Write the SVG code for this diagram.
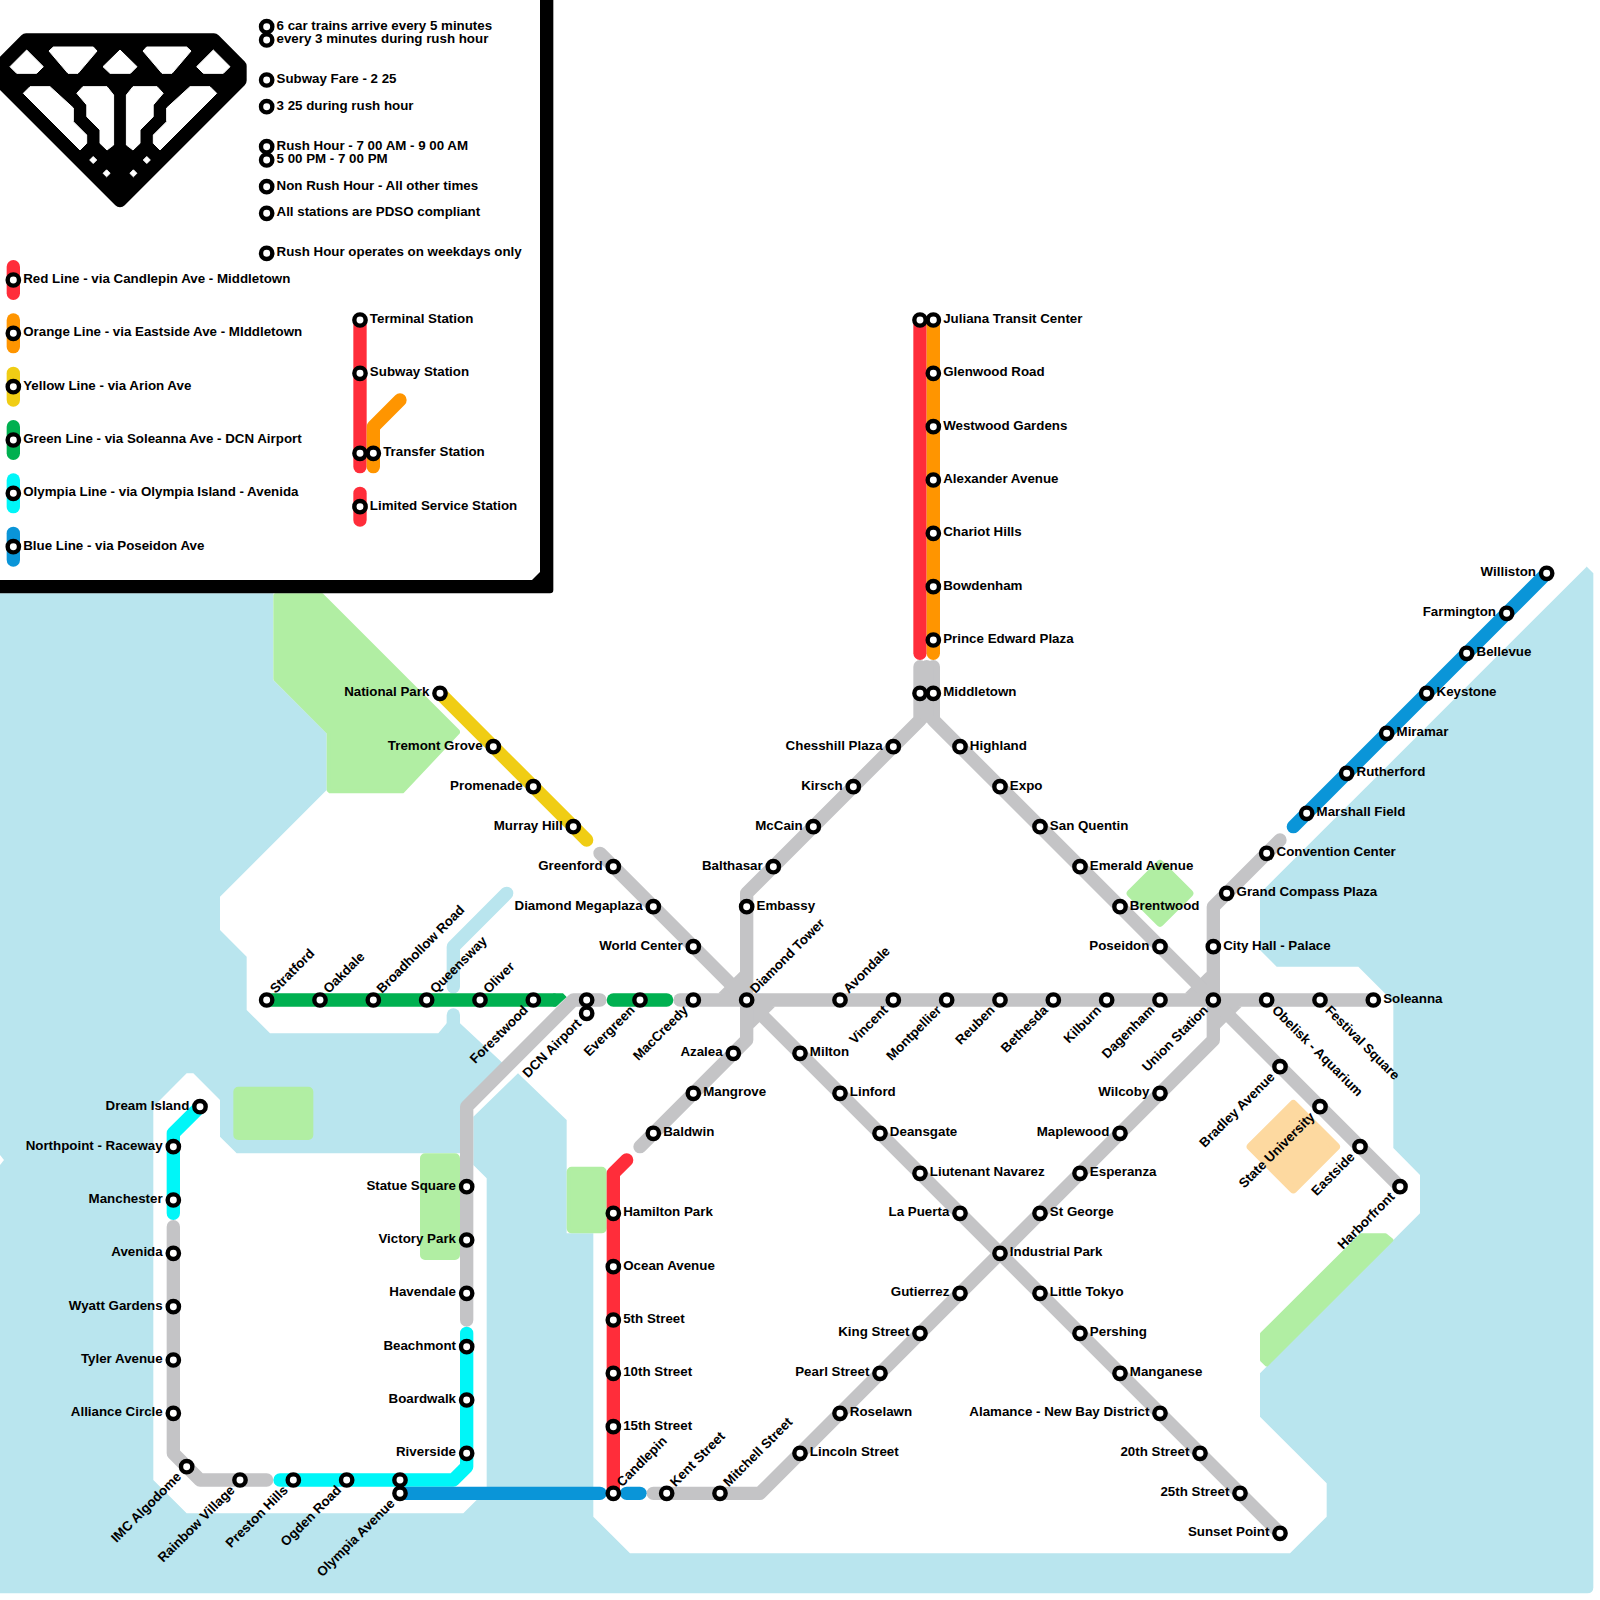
<svg xmlns="http://www.w3.org/2000/svg" width="1600" height="1600" viewBox="0 0 1600 1600">
<style>
text{font-family:"Liberation Sans",Arial,sans-serif;font-weight:700;font-size:13.33px;fill:#000}
text:not([transform]){transform:translate(0,-.4px)}
text:not(.e):not([transform]){transform:translate(-.8px,-.4px)}
.e{text-anchor:end}
.s{fill:#fff;stroke:#000;stroke-width:4.4}
.l{fill:none;stroke-width:13.33;stroke-linecap:round;stroke-linejoin:round}
.gr{stroke:#c4c4c6}.r{stroke:#ff2d3a}.o{stroke:#ff9500}.y{stroke:#f0cd14}.g{stroke:#00b050}.c{stroke:#00f6f8}.b{stroke:#0a95d8}
.park{fill:#b1eea3;stroke:#b1eea3;stroke-width:4;stroke-linejoin:round}
.hole{fill:#fff;stroke:#fff;stroke-width:1;stroke-linejoin:round}
</style>
<rect width="1600" height="1600" fill="#fff"/>
<path id="water" d="M0 560H1580L1593.33 573.33V1587.33Q1593.33 1593.33 1587.33 1593.33H0Z" fill="#b9e5ee"/>
<path id="land" fill="#fff" d="M0 0H1586.67V566.67L1260 893.33V950L1276.67 966.67H1358.33L1393.33 1001.67V1148L1420 1175V1213.33L1260 1373.33V1416.67L1326.67 1483.33V1516.67L1290 1553.33H630L593.33 1516.67V1233.33H566.67V1120L518 1073.33L473.33 1116.67V1165L486.67 1178.33V1490L463.33 1513.33H186.67L153.33 1480V1106.67L186.67 1073.33H193.33L220 1100V1136.67L236.67 1153.33H466.67V1106.67L506.67 1066.67L460 1023.33H446.67L438.33 1033.33H270L246.67 1010V956.67L220 930V896.67L326.67 790V733.33L273.33 680V593.33H0Z"/>
<polygon fill="#fff" points="0,1155 4,1160 0,1165"/>
<g id="parks">
<polygon class="park" points="275.33,595.33 322,595.33 458,731.5 458,732.5 402.5,791.33 330,791.33 328.67,790 328.67,732.5 275.33,679"/>
<rect class="park" x="235.33" y="1088.67" width="76" height="49.33" rx="3"/>
<rect class="park" x="422" y="1155.33" width="36" height="102.67" rx="3"/>
<rect class="park" x="568.67" y="1168.67" width="36" height="62.67" rx="3"/>
<polygon class="park" style="stroke-width:8" points="1160,864 1189.33,893.33 1160,922.67 1130.67,893.33"/>
<polygon class="park" points="1262,1334 1361,1235.33 1385.5,1235.33 1391.33,1240 1266.67,1364.5 1262,1360"/>
<polygon fill="#fdd9a0" stroke="#fdd9a0" stroke-width="8" stroke-linejoin="round" points="1293.33,1104 1336,1146.67 1293.33,1189.33 1250.67,1146.67"/>
</g>
<g id="river" class="l" style="stroke:#b9e5ee">
<polyline points="506.67,893.33 453.33,946.67 453.33,986.67"/>
<polyline points="453.33,1015 453.33,1032"/>
</g>
<g id="connectors">
<g fill="#c4c4c6">
<polygon points="740,971.67 718.33,993.33 746.67,1000"/>
<polygon points="775,1006.67 753.33,1028.33 746.67,1000"/>
<polygon points="1206.67,971.67 1185,993.33 1213.33,1000"/>
<polygon points="1241.67,1006.67 1220,1028.33 1213.33,1000"/>
</g>
<polyline class="l gr" points="600,853.33 1280,1533.33"/>
<polyline class="l gr" points="920,666.67 920,720 746.67,893.33 746.67,1040 640,1146.67"/>
<polyline class="l gr" points="933.33,666.67 933.33,720 1400,1186.67"/>
<polyline class="l gr" points="926.67,666.67 926.67,716"/>
<polyline class="l gr" points="680,1000 1373.33,1000"/>
<polyline class="l gr" points="1280,840 1213.33,906.67 1213.33,1040 760,1493.33 653.33,1493.33"/>
<polyline class="l gr" points="466.67,1320 466.67,1106.67 573.33,1000 600,1000"/>
<polyline class="l gr" points="173.33,1226.67 173.33,1453.33 200,1480 266.67,1480"/>
<polyline class="l r" points="920,320 920,653.33"/>
<polyline class="l o" points="933.33,320 933.33,653.33"/>
<polyline class="l y" points="440,693.33 586.67,840"/>
<polyline class="l g" points="266.67,1000 553.33,1000"/>
<polygon fill="#00b050" points="553.33,993.33 563,993.33 566.67,997 556,1006.67 553.33,1006.67"/>
<polyline class="l g" points="613.33,1000 666.67,1000"/>
<polyline class="l c" points="200,1106.67 173.33,1133.33 173.33,1213.33"/>
<polyline class="l c" points="466.67,1333.33 466.67,1466.67 453.33,1480 280,1480"/>
<polyline class="l b" points="400,1493.33 600,1493.33"/>
<polyline class="l b" points="626.67,1493.33 640,1493.33"/>
<polyline class="l r" points="613.33,1493.33 613.33,1173.33 626.67,1160"/>
<polyline class="l b" points="1546.67,573.33 1293.33,826.67"/>
</g>
<g id="stations">
<g id="n-stratford"><circle class="s" cx="266.67" cy="1000" r="5.67"/><text transform="translate(266.67 1000) rotate(-45)" x="10.4" y="2">Stratford</text></g>
<g id="n-oakdale"><circle class="s" cx="320" cy="1000" r="5.67"/><text transform="translate(320 1000) rotate(-45)" x="10.4" y="2">Oakdale</text></g>
<g id="n-broadhollow"><circle class="s" cx="373.33" cy="1000" r="5.67"/><text transform="translate(373.33 1000) rotate(-45)" x="10.4" y="2">Broadhollow Road</text></g>
<g id="n-queensway"><circle class="s" cx="426.67" cy="1000" r="5.67"/><text transform="translate(426.67 1000) rotate(-45)" x="10.4" y="2">Queensway</text></g>
<g id="n-oliver"><circle class="s" cx="480" cy="1000" r="5.67"/><text transform="translate(480 1000) rotate(-45)" x="10.4" y="2">Oliver</text></g>
<g id="n-forestwood"><circle class="s" cx="533.33" cy="1000" r="5.67"/><text class="e" transform="translate(533.33 1000) rotate(-45)" x="-11" y="4.5">Forestwood</text></g>
<g id="n-dcn"><circle class="s" cx="586.67" cy="1000" r="5.67"/><circle class="s" cx="586.67" cy="1013.33" r="5.67"/><text class="e" transform="translate(586.67 1013.33) rotate(-45)" x="-11" y="4.5">DCN Airport</text></g>
<g id="n-evergreen"><circle class="s" cx="640" cy="1000" r="5.67"/><text class="e" transform="translate(640 1000) rotate(-45)" x="-11" y="4.5">Evergreen</text></g>
<g id="n-maccreedy"><circle class="s" cx="693.33" cy="1000" r="5.67"/><text class="e" transform="translate(693.33 1000) rotate(-45)" x="-11" y="4.5">MacCreedy</text></g>
<g id="n-diamondtower"><circle class="s" cx="746.67" cy="1000" r="5.67"/><text transform="translate(746.67 1000) rotate(-45)" x="10.4" y="2">Diamond Tower</text></g>
<g id="n-avondale"><circle class="s" cx="840" cy="1000" r="5.67"/><text transform="translate(840 1000) rotate(-45)" x="10.4" y="2">Avondale</text></g>
<g id="n-vincent"><circle class="s" cx="893.33" cy="1000" r="5.67"/><text class="e" transform="translate(893.33 1000) rotate(-45)" x="-11" y="4.5">Vincent</text></g>
<g id="n-montpellier"><circle class="s" cx="946.67" cy="1000" r="5.67"/><text class="e" transform="translate(946.67 1000) rotate(-45)" x="-11" y="4.5">Montpellier</text></g>
<g id="n-reuben"><circle class="s" cx="1000" cy="1000" r="5.67"/><text class="e" transform="translate(1000 1000) rotate(-45)" x="-11" y="4.5">Reuben</text></g>
<g id="n-bethesda"><circle class="s" cx="1053.33" cy="1000" r="5.67"/><text class="e" transform="translate(1053.33 1000) rotate(-45)" x="-11" y="4.5">Bethesda</text></g>
<g id="n-kilburn"><circle class="s" cx="1106.67" cy="1000" r="5.67"/><text class="e" transform="translate(1106.67 1000) rotate(-45)" x="-11" y="4.5">Kilburn</text></g>
<g id="n-dagenham"><circle class="s" cx="1160" cy="1000" r="5.67"/><text class="e" transform="translate(1160 1000) rotate(-45)" x="-11" y="4.5">Dagenham</text></g>
<g id="n-union"><circle class="s" cx="1213.33" cy="1000" r="5.67"/><text class="e" transform="translate(1213.33 1000) rotate(-45)" x="-11" y="4.5">Union Station</text></g>
<g id="n-obelisk"><circle class="s" cx="1266.67" cy="1000" r="5.67"/><text transform="translate(1266.67 1000) rotate(45)" x="11" y="4.5">Obelisk - Aquarium</text></g>
<g id="n-festival"><circle class="s" cx="1320" cy="1000" r="5.67"/><text transform="translate(1320 1000) rotate(45)" x="11" y="4.5">Festival Square</text></g>
<g id="n-soleanna"><circle class="s" cx="1373.33" cy="1000" r="5.67"/><text x="1384" y="1003.33">Soleanna</text></g>
<g id="n-national"><circle class="s" cx="440" cy="693.33" r="5.67"/><text class="e" x="429.33" y="696.67">National Park</text></g>
<g id="n-tremont"><circle class="s" cx="493.33" cy="746.67" r="5.67"/><text class="e" x="482.67" y="750">Tremont Grove</text></g>
<g id="n-promenade"><circle class="s" cx="533.33" cy="786.67" r="5.67"/><text class="e" x="522.67" y="790">Promenade</text></g>
<g id="n-murray"><circle class="s" cx="573.33" cy="826.67" r="5.67"/><text class="e" x="562.67" y="830">Murray Hill</text></g>
<g id="n-greenford"><circle class="s" cx="613.33" cy="866.67" r="5.67"/><text class="e" x="602.67" y="870">Greenford</text></g>
<g id="n-megaplaza"><circle class="s" cx="653.33" cy="906.67" r="5.67"/><text class="e" x="642.67" y="910">Diamond Megaplaza</text></g>
<g id="n-world"><circle class="s" cx="693.33" cy="946.67" r="5.67"/><text class="e" x="682.67" y="950">World Center</text></g>
<g id="n-milton"><circle class="s" cx="800" cy="1053.33" r="5.67"/><text x="810.67" y="1056.67">Milton</text></g>
<g id="n-linford"><circle class="s" cx="840" cy="1093.33" r="5.67"/><text x="850.67" y="1096.67">Linford</text></g>
<g id="n-deansgate"><circle class="s" cx="880" cy="1133.33" r="5.67"/><text x="890.67" y="1136.67">Deansgate</text></g>
<g id="n-navarez"><circle class="s" cx="920" cy="1173.33" r="5.67"/><text x="930.67" y="1176.67">Liutenant Navarez</text></g>
<g id="n-lapuerta"><circle class="s" cx="960" cy="1213.33" r="5.67"/><text class="e" x="949.33" y="1216.67">La Puerta</text></g>
<g id="n-industrial"><circle class="s" cx="1000" cy="1253.33" r="5.67"/><text x="1010.67" y="1256.67">Industrial Park</text></g>
<g id="n-tokyo"><circle class="s" cx="1040" cy="1293.33" r="5.67"/><text x="1050.67" y="1296.67">Little Tokyo</text></g>
<g id="n-pershing"><circle class="s" cx="1080" cy="1333.33" r="5.67"/><text x="1090.67" y="1336.67">Pershing</text></g>
<g id="n-manganese"><circle class="s" cx="1120" cy="1373.33" r="5.67"/><text x="1130.67" y="1376.67">Manganese</text></g>
<g id="n-alamance"><circle class="s" cx="1160" cy="1413.33" r="5.67"/><text class="e" x="1149.33" y="1416.67">Alamance - New Bay District</text></g>
<g id="n-20th"><circle class="s" cx="1200" cy="1453.33" r="5.67"/><text class="e" x="1189.33" y="1456.67">20th Street</text></g>
<g id="n-25th"><circle class="s" cx="1240" cy="1493.33" r="5.67"/><text class="e" x="1229.33" y="1496.67">25th Street</text></g>
<g id="n-sunset"><circle class="s" cx="1280" cy="1533.33" r="5.67"/><text class="e" x="1269.33" y="1536.67">Sunset Point</text></g>
<g id="n-juliana"><circle class="s" cx="920" cy="320" r="5.67"/><circle class="s" cx="933.33" cy="320" r="5.67"/><text x="944" y="323.33">Juliana Transit Center</text></g>
<g id="n-glenwood"><circle class="s" cx="933.33" cy="373.33" r="5.67"/><text x="944" y="376.67">Glenwood Road</text></g>
<g id="n-westwood"><circle class="s" cx="933.33" cy="426.67" r="5.67"/><text x="944" y="430">Westwood Gardens</text></g>
<g id="n-alexander"><circle class="s" cx="933.33" cy="480" r="5.67"/><text x="944" y="483.33">Alexander Avenue</text></g>
<g id="n-chariot"><circle class="s" cx="933.33" cy="533.33" r="5.67"/><text x="944" y="536.67">Chariot Hills</text></g>
<g id="n-bowdenham"><circle class="s" cx="933.33" cy="586.67" r="5.67"/><text x="944" y="590">Bowdenham</text></g>
<g id="n-prince"><circle class="s" cx="933.33" cy="640" r="5.67"/><text x="944" y="643.33">Prince Edward Plaza</text></g>
<g id="n-middletown"><circle class="s" cx="920" cy="693.33" r="5.67"/><circle class="s" cx="933.33" cy="693.33" r="5.67"/><text x="944" y="696.67">Middletown</text></g>
<g id="n-chesshill"><circle class="s" cx="893.33" cy="746.67" r="5.67"/><text class="e" x="882.67" y="750">Chesshill Plaza</text></g>
<g id="n-kirsch"><circle class="s" cx="853.33" cy="786.67" r="5.67"/><text class="e" x="842.67" y="790">Kirsch</text></g>
<g id="n-mccain"><circle class="s" cx="813.33" cy="826.67" r="5.67"/><text class="e" x="802.67" y="830">McCain</text></g>
<g id="n-balthasar"><circle class="s" cx="773.33" cy="866.67" r="5.67"/><text class="e" x="762.67" y="870">Balthasar</text></g>
<g id="n-embassy"><circle class="s" cx="746.67" cy="906.67" r="5.67"/><text x="757.33" y="910">Embassy</text></g>
<g id="n-azalea"><circle class="s" cx="733.33" cy="1053.33" r="5.67"/><text class="e" x="722.67" y="1056.67">Azalea</text></g>
<g id="n-mangrove"><circle class="s" cx="693.33" cy="1093.33" r="5.67"/><text x="704" y="1096.67">Mangrove</text></g>
<g id="n-baldwin"><circle class="s" cx="653.33" cy="1133.33" r="5.67"/><text x="664" y="1136.67">Baldwin</text></g>
<g id="n-highland"><circle class="s" cx="960" cy="746.67" r="5.67"/><text x="970.67" y="750">Highland</text></g>
<g id="n-expo"><circle class="s" cx="1000" cy="786.67" r="5.67"/><text x="1010.67" y="790">Expo</text></g>
<g id="n-sanquentin"><circle class="s" cx="1040" cy="826.67" r="5.67"/><text x="1050.67" y="830">San Quentin</text></g>
<g id="n-emerald"><circle class="s" cx="1080" cy="866.67" r="5.67"/><text x="1090.67" y="870">Emerald Avenue</text></g>
<g id="n-brentwood"><circle class="s" cx="1120" cy="906.67" r="5.67"/><text x="1130.67" y="910">Brentwood</text></g>
<g id="n-poseidon"><circle class="s" cx="1160" cy="946.67" r="5.67"/><text class="e" x="1149.33" y="950">Poseidon</text></g>
<g id="n-cityhall"><circle class="s" cx="1213.33" cy="946.67" r="5.67"/><text x="1224" y="950">City Hall - Palace</text></g>
<g id="n-grandcompass"><circle class="s" cx="1226.67" cy="893.33" r="5.67"/><text x="1237.33" y="896.67">Grand Compass Plaza</text></g>
<g id="n-convention"><circle class="s" cx="1266.67" cy="853.33" r="5.67"/><text x="1277.33" y="856.67">Convention Center</text></g>
<g id="n-marshall"><circle class="s" cx="1306.67" cy="813.33" r="5.67"/><text x="1317.33" y="816.67">Marshall Field</text></g>
<g id="n-rutherford"><circle class="s" cx="1346.67" cy="773.33" r="5.67"/><text x="1357.33" y="776.67">Rutherford</text></g>
<g id="n-miramar"><circle class="s" cx="1386.67" cy="733.33" r="5.67"/><text x="1397.33" y="736.67">Miramar</text></g>
<g id="n-keystone"><circle class="s" cx="1426.67" cy="693.33" r="5.67"/><text x="1437.33" y="696.67">Keystone</text></g>
<g id="n-bellevue"><circle class="s" cx="1466.67" cy="653.33" r="5.67"/><text x="1477.33" y="656.67">Bellevue</text></g>
<g id="n-farmington"><circle class="s" cx="1506.67" cy="613.33" r="5.67"/><text class="e" x="1496" y="616.67">Farmington</text></g>
<g id="n-williston"><circle class="s" cx="1546.67" cy="573.33" r="5.67"/><text class="e" x="1536" y="576.67">Williston</text></g>
<g id="n-bradley"><circle class="s" cx="1280" cy="1066.67" r="5.67"/><text class="e" transform="translate(1280 1066.67) rotate(-45)" x="-11" y="4.5">Bradley Avenue</text></g>
<g id="n-state"><circle class="s" cx="1320" cy="1106.67" r="5.67"/><text class="e" transform="translate(1320 1106.67) rotate(-45)" x="-11" y="4.5">State University</text></g>
<g id="n-eastside"><circle class="s" cx="1360" cy="1146.67" r="5.67"/><text class="e" transform="translate(1360 1146.67) rotate(-45)" x="-11" y="4.5">Eastside</text></g>
<g id="n-harborfront"><circle class="s" cx="1400" cy="1186.67" r="5.67"/><text class="e" transform="translate(1400 1186.67) rotate(-45)" x="-11" y="4.5">Harborfront</text></g>
<g id="n-wilcoby"><circle class="s" cx="1160" cy="1093.33" r="5.67"/><text class="e" x="1149.33" y="1096.67">Wilcoby</text></g>
<g id="n-maplewood"><circle class="s" cx="1120" cy="1133.33" r="5.67"/><text class="e" x="1109.33" y="1136.67">Maplewood</text></g>
<g id="n-esperanza"><circle class="s" cx="1080" cy="1173.33" r="5.67"/><text x="1090.67" y="1176.67">Esperanza</text></g>
<g id="n-stgeorge"><circle class="s" cx="1040" cy="1213.33" r="5.67"/><text x="1050.67" y="1216.67">St George</text></g>
<g id="n-gutierrez"><circle class="s" cx="960" cy="1293.33" r="5.67"/><text class="e" x="949.33" y="1296.67">Gutierrez</text></g>
<g id="n-king"><circle class="s" cx="920" cy="1333.33" r="5.67"/><text class="e" x="909.33" y="1336.67">King Street</text></g>
<g id="n-pearl"><circle class="s" cx="880" cy="1373.33" r="5.67"/><text class="e" x="869.33" y="1376.67">Pearl Street</text></g>
<g id="n-roselawn"><circle class="s" cx="840" cy="1413.33" r="5.67"/><text x="850.67" y="1416.67">Roselawn</text></g>
<g id="n-lincoln"><circle class="s" cx="800" cy="1453.33" r="5.67"/><text x="810.67" y="1456.67">Lincoln Street</text></g>
<g id="n-mitchell"><circle class="s" cx="720" cy="1493.33" r="5.67"/><text transform="translate(720 1493.33) rotate(-45)" x="10.4" y="2">Mitchell Street</text></g>
<g id="n-kent"><circle class="s" cx="666.67" cy="1493.33" r="5.67"/><text transform="translate(666.67 1493.33) rotate(-45)" x="10.4" y="2">Kent Street</text></g>
<g id="n-candlepin"><circle class="s" cx="613.33" cy="1493.33" r="5.67"/><text transform="translate(613.33 1493.33) rotate(-45)" x="10.4" y="2">Candlepin</text></g>
<g id="n-hamilton"><circle class="s" cx="613.33" cy="1213.33" r="5.67"/><text x="624" y="1216.67">Hamilton Park</text></g>
<g id="n-ocean"><circle class="s" cx="613.33" cy="1266.67" r="5.67"/><text x="624" y="1270">Ocean Avenue</text></g>
<g id="n-5th"><circle class="s" cx="613.33" cy="1320" r="5.67"/><text x="624" y="1323.33">5th Street</text></g>
<g id="n-10th"><circle class="s" cx="613.33" cy="1373.33" r="5.67"/><text x="624" y="1376.67">10th Street</text></g>
<g id="n-15th"><circle class="s" cx="613.33" cy="1426.67" r="5.67"/><text x="624" y="1430">15th Street</text></g>
<g id="n-statue"><circle class="s" cx="466.67" cy="1186.67" r="5.67"/><text class="e" x="456" y="1190">Statue Square</text></g>
<g id="n-victory"><circle class="s" cx="466.67" cy="1240" r="5.67"/><text class="e" x="456" y="1243.33">Victory Park</text></g>
<g id="n-havendale"><circle class="s" cx="466.67" cy="1293.33" r="5.67"/><text class="e" x="456" y="1296.67">Havendale</text></g>
<g id="n-beachmont"><circle class="s" cx="466.67" cy="1346.67" r="5.67"/><text class="e" x="456" y="1350">Beachmont</text></g>
<g id="n-boardwalk"><circle class="s" cx="466.67" cy="1400" r="5.67"/><text class="e" x="456" y="1403.33">Boardwalk</text></g>
<g id="n-riverside"><circle class="s" cx="466.67" cy="1453.33" r="5.67"/><text class="e" x="456" y="1456.67">Riverside</text></g>
<g id="n-olympia"><circle class="s" cx="400" cy="1480" r="5.67"/><circle class="s" cx="400" cy="1493.33" r="5.67"/><text class="e" transform="translate(400 1493.33) rotate(-45)" x="-11" y="4.5">Olympia Avenue</text></g>
<g id="n-ogden"><circle class="s" cx="346.67" cy="1480" r="5.67"/><text class="e" transform="translate(346.67 1480) rotate(-45)" x="-11" y="4.5">Ogden Road</text></g>
<g id="n-preston"><circle class="s" cx="293.33" cy="1480" r="5.67"/><text class="e" transform="translate(293.33 1480) rotate(-45)" x="-11" y="4.5">Preston Hills</text></g>
<g id="n-rainbow"><circle class="s" cx="240" cy="1480" r="5.67"/><text class="e" transform="translate(240 1480) rotate(-45)" x="-11" y="4.5">Rainbow Village</text></g>
<g id="n-imc"><circle class="s" cx="186.67" cy="1466.67" r="5.67"/><text class="e" transform="translate(186.67 1466.67) rotate(-45)" x="-11" y="4.5">IMC Algodome</text></g>
<g id="n-alliance"><circle class="s" cx="173.33" cy="1413.33" r="5.67"/><text class="e" x="162.67" y="1416.67">Alliance Circle</text></g>
<g id="n-tyler"><circle class="s" cx="173.33" cy="1360" r="5.67"/><text class="e" x="162.67" y="1363.33">Tyler Avenue</text></g>
<g id="n-wyatt"><circle class="s" cx="173.33" cy="1306.67" r="5.67"/><text class="e" x="162.67" y="1310">Wyatt Gardens</text></g>
<g id="n-avenida"><circle class="s" cx="173.33" cy="1253.33" r="5.67"/><text class="e" x="162.67" y="1256.67">Avenida</text></g>
<g id="n-manchester"><circle class="s" cx="173.33" cy="1200" r="5.67"/><text class="e" x="162.67" y="1203.33">Manchester</text></g>
<g id="n-northpoint"><circle class="s" cx="173.33" cy="1146.67" r="5.67"/><text class="e" x="162.67" y="1150">Northpoint - Raceway</text></g>
<g id="n-dream"><circle class="s" cx="200" cy="1106.67" r="5.67"/><text class="e" x="189.33" y="1110">Dream Island</text></g>
</g>
<g id="legend">
<path fill="#000" d="M0 0H553.33V590Q553.33 593.33 550 593.33H0V580H532L540 572V0H0Z"/>
<path id="logo" fill="#000" stroke="#000" stroke-width="13.33" stroke-linejoin="round" d="M26.1 40H213.9L240 66.1V80.57L120 200.57L0 80.57V66.1Z"/>
<g class="hole">
<polygon points="26.67,50 43.33,66.67 36.67,73.33 16.67,73.33 10,66.67"/>
<polygon points="53.33,47 93.33,47 97,51 78,73.33 68,73.33 49,51"/>
<polygon points="120,50 137,66.67 130.4,73.33 110,73.33 103,66.67"/>
<polygon points="146.67,47 186.67,47 191,51 172,73.33 162,73.33 143,51"/>
<polygon points="213.33,50 230,66.67 223.33,73.33 203.33,73.33 196.67,66.67"/>
<polygon points="23.33,93.33 30,86.67 50,86.67 73.33,108 73.33,121.67 86.67,135 86.67,143.33 80,150"/>
<polygon points="76.8,93.3 82.9,86.67 107,86.67 113.6,95 113.6,145 107,150 100,143.3 100,130 86.8,116.7 86.8,105"/>
<polygon points="163.2,93.3 157.1,86.67 133,86.67 126.4,95 126.4,145 133,150 140,143.3 140,130 153.2,116.7 153.2,105"/>
<polygon points="216.67,93.33 210,86.67 190,86.67 166.67,108 166.67,121.67 153.33,135 153.33,143.33 160,150"/>
<polygon points="93.2,156.5 96.7,160 93.2,163.5 89.7,160"/>
<polygon points="146.8,156.5 150.3,160 146.8,163.5 143.3,160"/>
<polygon points="106.6,169.8 110.1,173.33 106.6,176.8 103.1,173.33"/>
<polygon points="133.4,169.8 136.9,173.33 133.4,176.8 129.9,173.33"/>
</g>
<g id="legend-notes">
<circle class="s" cx="266.67" cy="26.67" r="5.67"/><text x="277.33" y="30">6 car trains arrive every 5 minutes</text>
<circle class="s" cx="266.67" cy="40" r="5.67"/><text x="277.33" y="43.33">every 3 minutes during rush hour</text>
<circle class="s" cx="266.67" cy="80" r="5.67"/><text x="277.33" y="83.33">Subway Fare - 2 25</text>
<circle class="s" cx="266.67" cy="106.67" r="5.67"/><text x="277.33" y="110">3 25 during rush hour</text>
<circle class="s" cx="266.67" cy="146.67" r="5.67"/><text x="277.33" y="150">Rush Hour - 7 00 AM - 9 00 AM</text>
<circle class="s" cx="266.67" cy="160" r="5.67"/><text x="277.33" y="163.33">5 00 PM - 7 00 PM</text>
<circle class="s" cx="266.67" cy="186.67" r="5.67"/><text x="277.33" y="190">Non Rush Hour - All other times</text>
<circle class="s" cx="266.67" cy="213.33" r="5.67"/><text x="277.33" y="216.67">All stations are PDSO compliant</text>
<circle class="s" cx="266.67" cy="253.33" r="5.67"/><text x="277.33" y="256.67">Rush Hour operates on weekdays only</text>
</g>
<g id="legend-lines">
<polyline class="l r" points="13.33,266.67 13.33,293.33"/><circle class="s" cx="13.33" cy="280" r="5.67"/><text x="24" y="283.33">Red Line - via Candlepin Ave - Middletown</text>
<polyline class="l o" points="13.33,320 13.33,346.67"/><circle class="s" cx="13.33" cy="333.33" r="5.67"/><text x="24" y="336.67">Orange Line - via Eastside Ave - MIddletown</text>
<polyline class="l y" points="13.33,373.33 13.33,400"/><circle class="s" cx="13.33" cy="386.67" r="5.67"/><text x="24" y="390">Yellow Line - via Arion Ave</text>
<polyline class="l g" points="13.33,426.67 13.33,453.33"/><circle class="s" cx="13.33" cy="440" r="5.67"/><text x="24" y="443.33">Green Line - via Soleanna Ave - DCN Airport</text>
<polyline class="l c" points="13.33,480 13.33,506.67"/><circle class="s" cx="13.33" cy="493.33" r="5.67"/><text x="24" y="496.67">Olympia Line - via Olympia Island - Avenida</text>
<polyline class="l b" points="13.33,533.33 13.33,560"/><circle class="s" cx="13.33" cy="546.67" r="5.67"/><text x="24" y="550">Blue Line - via Poseidon Ave</text>
</g>
<g id="legend-types">
<polyline class="l r" points="360,320 360,466.67"/>
<polyline class="l o" points="400,400 373.33,426.67 373.33,466.67"/>
<circle class="s" cx="360" cy="320" r="5.67"/><text x="370.67" y="323.33">Terminal Station</text>
<circle class="s" cx="360" cy="373.33" r="5.67"/><text x="370.67" y="376.67">Subway Station</text>
<circle class="s" cx="360" cy="453.33" r="5.67"/><circle class="s" cx="373.33" cy="453.33" r="5.67"/><text x="384" y="456.67">Transfer Station</text>
<polyline class="l r" points="360,493.33 360,520"/><circle class="s" cx="360" cy="506.67" r="5.67"/><text x="370.67" y="510">Limited Service Station</text>
</g>
</g>
</svg>
